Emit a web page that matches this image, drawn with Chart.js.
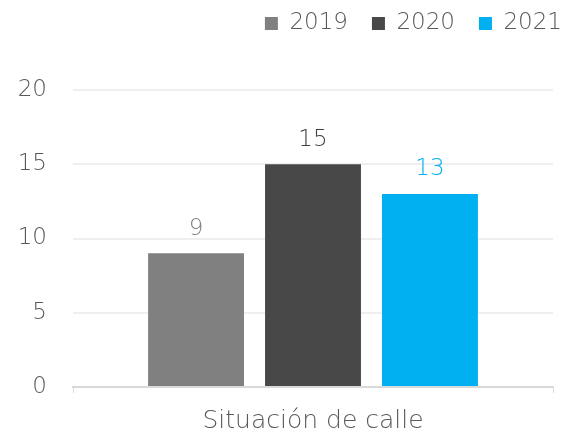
<!DOCTYPE html>
<html>
<head>
<meta charset="utf-8">
<script src="https://cdn.jsdelivr.net/npm/chart.js@4.4.0/dist/chart.umd.min.js"></script>
<style>
  html, body { margin: 0; padding: 0; background: #fff; }
  #wrap { width: 565px; height: 437px; }
</style>
</head>
<body>
<div id="wrap"><canvas id="chart"></canvas></div>
<script>
var categories = ["Situación de calle"];
var years = ["2019", "2020", "2021"];
var values2019 = [9];
var values2020 = [15];
var values2021 = [13];
var yTicks = [0, 5, 10, 15, 20];

var barColors = ["#808080", "#484848", "#00B0F0"];
var labelColors = ["#808080", "#404040", "#00B0F0"];
var fontFamily = "'DejaVu Sans', sans-serif";
var fontWeight = 200;

// draws the value above each bar
var valueLabels = {
    id: "valueLabels",
    afterDatasetsDraw: function(chart) {
        var ctx = chart.ctx;
        ctx.save();
        ctx.font = fontWeight + " 23px " + fontFamily;
        ctx.textAlign = "center";
        ctx.textBaseline = "bottom";
        chart.data.datasets.forEach(function(ds, i) {
            var meta = chart.getDatasetMeta(i);
            meta.data.forEach(function(bar, j) {
                ctx.fillStyle = labelColors[i];
                ctx.fillText(ds.data[j], bar.x, bar.y - 13);
            });
        });
        ctx.restore();
    }
};

// extra room under the legend, and push it a bit past the plot's right edge
var legendGap = {
    id: "legendGap",
    beforeInit: function(chart) {
        var fit = chart.legend.fit;
        chart.legend.fit = function() {
            fit.bind(chart.legend)();
            this.height += 31;
        };
    },
    afterLayout: function(chart) {
        chart.legend.left += 33;
        chart.legend.right += 33;
        chart.legend.top -= 14;
    }
};

new Chart(document.getElementById("chart"), {
    type: "bar",
    data: {
        labels: categories,
        datasets: [
            { label: years[0], data: values2019, backgroundColor: barColors[0] },
            { label: years[1], data: values2020, backgroundColor: barColors[1] },
            { label: years[2], data: values2021, backgroundColor: barColors[2] }
        ]
    },
    options: {
        responsive: true,
        maintainAspectRatio: false,
        animation: false,
        categoryPercentage: 0.731,
        barPercentage: 0.82,
        layout: { padding: { left: 0, right: 12, top: 2, bottom: 0 } },
        plugins: {
            tooltip: { enabled: false },
            legend: {
                position: "top",
                align: "end",
                labels: {
                    boxWidth: 13,
                    boxHeight: 13,
                    color: "#595959",
                    padding: 24,
                    font: { family: fontFamily, size: 23, weight: fontWeight }
                }
            }
        },
        scales: {
            x: {
                grid: { drawOnChartArea: false, color: "#d9d9d9", tickLength: 6 },
                border: { color: "#d9d9d9", width: 2 },
                afterFit: function(axis) {
                    axis.height = 50;
                },
                ticks: { color: "#595959", font: { family: fontFamily, size: 25, weight: fontWeight }, padding: 13 }
            },
            y: {
                min: yTicks[0],
                max: yTicks[yTicks.length - 1],
                grid: { color: "#efefef", lineWidth: 2, drawTicks: false },
                border: { display: false },
                afterBuildTicks: function(axis) {
                    axis.ticks = yTicks.map(function(v) { return { value: v }; });
                },
                afterFit: function(axis) {
                    axis.width = 73;
                },
                ticks: { color: "#595959", font: { family: fontFamily, size: 23, weight: fontWeight }, padding: 26 }
            }
        }
    },
    plugins: [valueLabels, legendGap]
});
</script>
</body>
</html>
